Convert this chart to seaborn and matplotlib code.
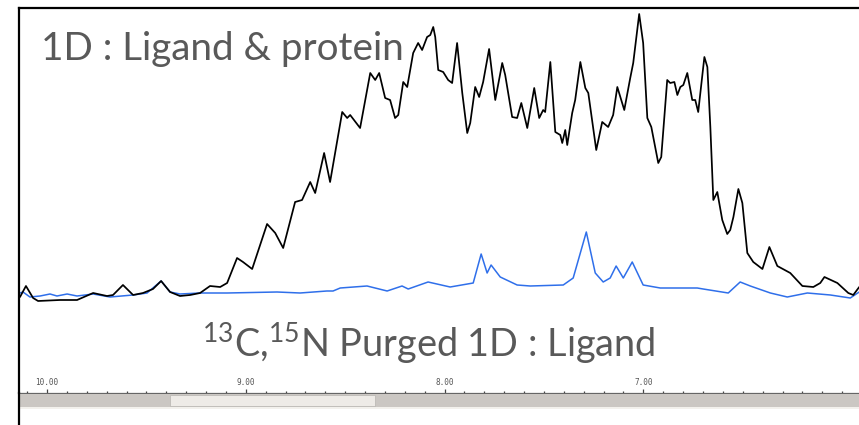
import numpy as np
import pandas as pd
import matplotlib
matplotlib.use("Agg")
import matplotlib.pyplot as plt
import seaborn as sns
from matplotlib.patches import Rectangle
from matplotlib.lines import Line2D
from matplotlib.ticker import FixedLocator, MultipleLocator, FormatStrFormatter

# ---------------- data (chemical shift in ppm, intensity in arbitrary units) -------------
protein_ppm = [10.136, 10.106, 10.070, 10.045, 9.935, 9.849, 9.768, 9.698, 9.668, 9.618,
               9.567, 9.517, 9.467, 9.426, 9.381, 9.331, 9.280, 9.230, 9.180, 9.129,
               9.094, 9.044, 9.014, 8.968, 8.893, 8.852, 8.812, 8.752, 8.717, 8.676,
               8.651, 8.606, 8.576, 8.515, 8.490, 8.475, 8.425, 8.374, 8.349, 8.329,
               8.299, 8.274, 8.249, 8.233, 8.208, 8.188, 8.158, 8.133, 8.113, 8.088,
               8.072, 8.057, 8.047, 8.032, 8.007, 7.982, 7.962, 7.937, 7.911, 7.886,
               7.871, 7.846, 7.826, 7.806, 7.776, 7.745, 7.710, 7.695, 7.660, 7.635,
               7.614, 7.584, 7.549, 7.524, 7.504, 7.494, 7.468, 7.443, 7.418, 7.408,
               7.393, 7.383, 7.358, 7.343, 7.317, 7.292, 7.277, 7.237, 7.207, 7.177,
               7.152, 7.131, 7.096, 7.066, 7.051, 7.021, 7.001, 6.980, 6.960, 6.925,
               6.910, 6.880, 6.865, 6.844, 6.829, 6.814, 6.799, 6.779, 6.754, 6.739,
               6.724, 6.693, 6.678, 6.663, 6.648, 6.628, 6.603, 6.578, 6.563, 6.547,
               6.522, 6.502, 6.477, 6.447, 6.401, 6.366, 6.326, 6.261, 6.200, 6.145,
               6.110, 6.089, 6.024, 5.969, 5.944, 5.914]
protein_int = [3, 14, 2, -1, 0, 0, 7, 4, 5, 15,
               5, 7, 11, 19, 8, 4, 5, 7, 14, 13,
               17, 42, 38, 31, 76, 67, 52, 98, 100, 118,
               107, 147, 118, 188, 182, 185, 172, 227, 220, 227,
               202, 200, 182, 185, 218, 213, 247, 257, 250, 263,
               265, 273, 263, 230, 228, 220, 217, 257, 207, 167,
               177, 213, 203, 218, 251, 200, 237, 225, 183, 182,
               197, 172, 212, 182, 190, 188, 238, 168, 165, 157,
               170, 155, 187, 200, 238, 212, 207, 150, 178, 173,
               185, 213, 190, 222, 237, 286, 257, 182, 173, 137,
               143, 220, 217, 218, 205, 213, 215, 227, 200, 200,
               188, 243, 233, 173, 100, 108, 80, 66, 70, 83,
               111, 97, 47, 38, 31, 53, 34, 27, 14, 13,
               17, 23, 17, 7, 5, 13]

ligand_ppm = [10.136, 10.121, 10.086, 10.035, 9.985, 9.950, 9.899, 9.849, 9.768, 9.683,
              9.567, 9.497, 9.426, 9.381, 9.331, 9.230, 9.094, 8.843, 8.727, 8.592,
              8.561, 8.525, 8.390, 8.289, 8.214, 8.183, 8.083, 7.972, 7.856, 7.816,
              7.786, 7.766, 7.720, 7.635, 7.569, 7.403, 7.353, 7.287, 7.242, 7.202,
              7.167, 7.137, 7.101, 7.056, 7.001, 6.915, 6.729, 6.699, 6.573, 6.513,
              6.462, 6.361, 6.276, 6.175, 6.059, 5.959, 5.914]
ligand_int = [7, 8, 3, 4, 6, 4, 6, 4, 6, 3,
              5, 7, 19, 8, 6, 7, 7, 8, 7, 9,
              9, 12, 14, 9, 14, 11, 18, 13, 17, 46,
              27, 35, 23, 15, 14, 15, 22, 68, 27, 18,
              22, 34, 22, 38, 15, 12, 12, 11, 7, 18,
              14, 7, 3, 7, 5, 2, 8]

major_ticks = [10.0, 9.0, 8.0, 7.0]
label_top = "1D : Ligand & protein"
label_bottom = r"$^{13}$C,$^{15}$N Purged 1D : Ligand"

# ---------------- figure -------------
sns.set_style("white")
plt.rcParams["font.family"] = ["Lato", "DejaVu Sans"]
plt.rcParams["mathtext.fontset"] = "custom"
plt.rcParams["mathtext.rm"] = "Lato"
plt.rcParams["mathtext.it"] = "Lato:italic"
plt.rcParams["mathtext.bf"] = "Lato:bold"

W, H = 859, 425
fig = plt.figure(figsize=(W / 100, H / 100), dpi=100)
fig.patch.set_facecolor("white")
ax = fig.add_axes([19 / W, 32 / H, 845 / W, 385 / H])
ax.set_facecolor("white")

df_p = pd.DataFrame({"ppm": protein_ppm, "intensity": protein_int})
df_l = pd.DataFrame({"ppm": ligand_ppm, "intensity": ligand_int})
sns.lineplot(data=df_l, x="ppm", y="intensity", ax=ax, color="#2f6fea",
             lw=1.1, estimator=None, sort=False, zorder=2,
             solid_joinstyle="round")
sns.lineplot(data=df_p, x="ppm", y="intensity", ax=ax, color="black",
             lw=1.25, estimator=None, sort=False, zorder=3,
             solid_joinstyle="round")

ax.set_xlim(10.141, 5.89)
ax.set_ylim(-93, 292)
ax.set_xlabel("")
ax.set_ylabel("")
ax.set_yticks([])

ax.xaxis.set_major_locator(FixedLocator(major_ticks))
ax.xaxis.set_major_formatter(FormatStrFormatter("%.2f"))
ax.xaxis.set_minor_locator(MultipleLocator(0.1))
ax.tick_params(axis="x", which="major", direction="in", length=3.2, width=0.9,
               color="#444444", labelsize=5.5, labelcolor="#555555", pad=-10.5,
               bottom=True)
ax.tick_params(axis="x", which="minor", direction="in", length=1.5, width=0.9,
               color="#444444", bottom=True)
for lab in ax.get_xticklabels():
    lab.set_family("DejaVu Sans Mono")

for side in ["left", "top"]:
    ax.spines[side].set_color("black")
    ax.spines[side].set_linewidth(1.6)
ax.spines["right"].set_visible(False)
ax.spines["bottom"].set_color("#666666")
ax.spines["bottom"].set_linewidth(0.9)

# scrollbar-like strip below the ppm axis
fig.patches.append(Rectangle((20 / W, (H - 407) / H), 1, 13 / H,
                             transform=fig.transFigure, facecolor="#cbc7c3",
                             edgecolor="none", zorder=0))
fig.patches.append(Rectangle((170 / W, (H - 406) / H), 205 / W, 11 / H,
                             transform=fig.transFigure, facecolor="#eeebe7",
                             edgecolor="#b8b4b0", lw=0.5, zorder=1))
fig.patches.append(Rectangle((20 / W, (H - 409) / H), 1, 2 / H,
                             transform=fig.transFigure, facecolor="#f3f1ed",
                             edgecolor="none", zorder=0))
fig.lines.append(Line2D([19 / W, 19 / W], [0, 33 / H], transform=fig.transFigure,
                        color="black", lw=1.6))

fig.text(41 / W, (H - 60) / H, label_top, fontsize=27.8, color="#595959",
         ha="left", va="baseline")
fig.text(202 / W, (H - 357) / H, label_bottom, fontsize=27.3, color="#595959",
         ha="left", va="baseline")

fig.savefig("out.png", dpi=100, facecolor="white")
